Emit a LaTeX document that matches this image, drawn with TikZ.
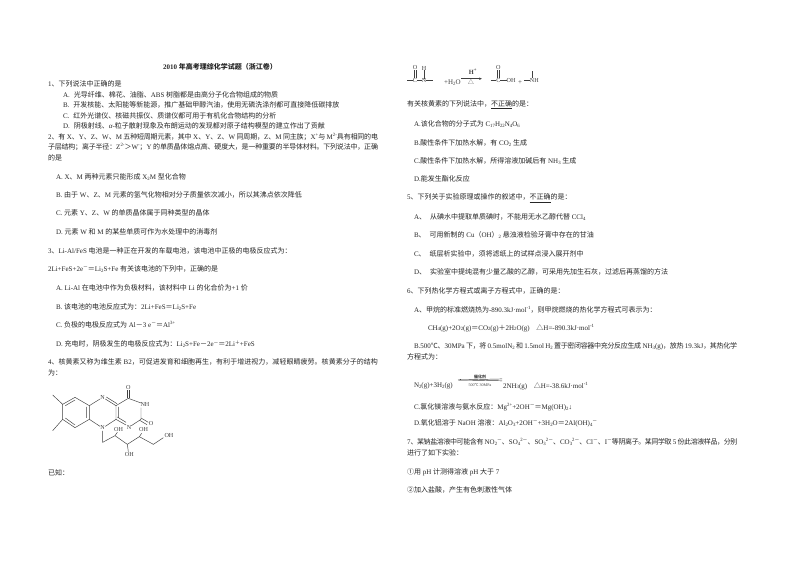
\documentclass[tikz,border=0pt]{standalone}
\usepackage{fontspec}
\usetikzlibrary{arrows.meta}
\setmainfont{Liberation Serif}
\newfontfamily\latinfam{Liberation Serif}
\newfontfamily\cjkfam{Noto Sans CJK SC}
\XeTeXinterchartokenstate=1
\newXeTeXintercharclass\cjkclass
\newcount\cjkn
\newcommand\setcjkrange[2]{\cjkn=#1 \loop\ifnum\cjkn<#2 \XeTeXcharclass\cjkn=\cjkclass \advance\cjkn by 1 \repeat}
\setcjkrange{"4E00}{"9FFF}
\setcjkrange{"3000}{"3040}
\setcjkrange{"FF00}{"FFF0}
\setcjkrange{"2460}{"2474}
\XeTeXcharclass"2103=\cjkclass
\XeTeXcharclass"25B3=\cjkclass
\XeTeXinterchartoks 0 \cjkclass = {\cjkfam}
\XeTeXinterchartoks 4095 \cjkclass = {\cjkfam}
\XeTeXinterchartoks \cjkclass 0 = {\latinfam}
\XeTeXinterchartoks \cjkclass 4095 = {\latinfam}
\XeTeXinterchartoks \cjkclass \cjkclass = {\hskip 0pt plus 1pt minus 0.3pt}
\newcommand\SB[1]{\raisebox{-0.6pt}{\fontsize{3.6}{4}\selectfont #1}}
\newcommand\SU[1]{\raisebox{2pt}{\fontsize{3.6}{4}\selectfont #1}}
\newcommand\UL[1]{$\underline{\hbox{#1}}$}
\newcount\linecnt
\newcommand\TL[3]{\global\advance\linecnt by 1 \node[txt] (line\the\linecnt) at (#1,#2) {#3};}
% a line set to a fixed width, in points
\newcommand\JL[4]{\global\advance\linecnt by 1 \node[txt] (line\the\linecnt) at (#1,#2) {\hbox to #3pt{#4}};}
\tikzset{
  txt/.style={anchor=west,inner sep=0pt,outer sep=0pt,text=black!85,font=\fontsize{5.25}{6}\selectfont},
  chemlabel/.style={inner sep=0pt,outer sep=0pt,text=black!75,font=\fontsize{4.6}{5}\selectfont},
  bond/.style={draw=black!75,line width=0.35pt},
}
\begin{document}
\begin{tikzpicture}[x=0.75pt,y=-0.75pt]
\useasboundingbox (0,0) rectangle (800,566);
\fill[white] (0,0) rectangle (800,566);
% title
\node[txt,anchor=center,font=\fontsize{5.25}{6}\selectfont\bfseries] (title) at (220,67) {2010 年高考理综化学试题（浙江卷）};
% left column
\TL{48}{84}{1、下列说法中正确的是}
\TL{63}{95}{A.\hspace{3pt}光导纤维、棉花、油脂、ABS 树脂都是由高分子化合物组成的物质}
\TL{63}{105}{B.\hspace{3pt}开发核能、太阳能等新能源，推广基础甲醇汽油，使用无磷洗涤剂都可直接降低碳排放}
\TL{63}{116}{C.\hspace{3pt}红外光谱仪、核磁共振仪、质谱仪都可用于有机化合物结构的分析}
\TL{63}{126}{D.\hspace{3pt}阴极射线、\textit{α}-粒子散射现象及布朗运动的发现都对原子结构模型的建立作出了贡献}
\JL{48}{137}{247.5}{2、有 X、Y、Z、W、M 五种短周期元素，其中 X、Y、Z、W 同周期，Z、M 同主族；X\SU{+}与 M\SU{2-}具有相同的电}
\JL{48}{147}{247.5}{子层结构；离子半径：Z\SU{2-}＞W\SU{-}；Y 的单质晶体熔点高、硬度大，是一种重要的半导体材料。下列说法中，正确}
\TL{48}{158}{的是}
\TL{56}{177}{A. X、M 两种元素只能形成 X\SB{2}M 型化合物}
\TL{56}{195}{B. 由于 W、Z、M 元素的氢气化物相对分子质量依次减小，所以其沸点依次降低}
\TL{56}{213}{C. 元素 Y、Z、W 的单质晶体属于同种类型的晶体}
\TL{56}{232}{D. 元素 W 和 M 的某些单质可作为水处理中的消毒剂}
\TL{48}{251}{3、Li-Al/FeS 电池是一种正在开发的车载电池，该电池中正极的电极反应式为：}
\TL{48}{269}{2Li+FeS+2e\SU{－}＝Li\SB{2}S+Fe 有关该电池的下列中，正确的是}
\TL{56}{288}{A. Li-Al 在电池中作为负极材料，该材料中 Li 的化合价为+1 价}
\TL{56}{307}{B. 该电池的电池反应式为：2Li+FeS＝Li\SB{2}S+Fe}
\TL{56}{325}{C. 负极的电极反应式为 Al－3 e\SU{－}＝Al\SU{3+}}
\TL{56}{344}{D. 充电时，阴极发生的电极反应式为：Li\SB{2}S+Fe－2e\SU{－}＝2Li\SU{＋}+FeS}
\JL{48}{362}{247.5}{4、核黄素又称为维生素 B2，可促进发育和细胞再生，有利于增进视力，减轻眼睛疲劳。核黄素分子的结构}
\TL{48}{373}{为：}
\TL{48}{473}{已知：}
% riboflavin
\begin{scope}[shift={(40,385)},x=0.25pt,y=-0.25pt]
  \draw[bond] (38,30)--(68,58)--(105,37)--(148,62)--(148,103)--(105,128)--(68,103)--(68,58);
  \draw[bond] (68,103)--(38,137);
  \draw[bond] (76,62)--(105,45) (140,66)--(140,99) (76,99)--(105,120);
  \draw[bond] (148,62)--(180,42) (196,42)--(228,62)--(228,103)--(196,124) (148,103)--(180,124);
  \draw[bond] (199,36)--(231,56) (236,66)--(236,99);
  \draw[bond] (228,62)--(265,40)--(303,54) (303,68)--(303,103)--(274,122) (258,120)--(228,103);
  \draw[bond] (232,96)--(258,112);
  \draw[bond] (261,40)--(261,16) (269,40)--(269,16);
  \draw[bond] (303,99)--(325,112) (299,106)--(321,119);
  \draw[bond] (188,138)--(188,172)--(225,152)--(262,178)--(298,155)--(340,178)--(370,158);
  \draw[bond] (225,152)--(232,142) (262,178)--(265,200) (298,155)--(305,145);
  \node[chemlabel] (n1) at (188,38) {N};
  \node[chemlabel] (n2) at (188,128) {N};
  \node[chemlabel] (n3) at (267,127) {N};
  \node[chemlabel] (nh) at (315,58) {NH};
  \node[chemlabel] (o1) at (265,8) {O};
  \node[chemlabel] (o2) at (333,117) {O};
  \node[chemlabel] (oh1) at (236,133) {OH};
  \node[chemlabel] (oh2) at (268,210) {OH};
  \node[chemlabel] (oh3) at (311,135) {OH};
  \node[chemlabel] (oh4) at (387,153) {OH};
\end{scope}
% right column: reaction
\begin{scope}[shift={(400,58)},x=0.25pt,y=-0.25pt]
  \node[chemlabel] (rc) at (45,68) {C};
  \node[chemlabel] (ro) at (45,30) {O};
  \node[chemlabel] (rn) at (72,68) {N};
  \node[chemlabel] (rh) at (72,30) {H};
  \draw[bond] (22,68)--(rc) (rc)--(rn) (rn)--(rh) (rn)--(100,68);
  \draw[bond] (42,60)--(42,37) (48,60)--(48,37);
  \node[chemlabel,font=\fontsize{5.25}{6}\selectfont] (water) at (157,73) {+H\SB{2}O};
  \coordinate (ra) at (183,62); \coordinate (rb) at (246,62);
  \draw[bond,-{Latex[length=2pt,width=2pt]}] (ra)--(rb);
  \node[chemlabel,font=\fontsize{4.8}{5}\selectfont\bfseries] (hp) at (218,40) {H\SU{+}};
  \node[chemlabel] (dl) at (213,73) {\cjkfam △};
  \node[chemlabel] (pc) at (295,68) {C};
  \node[chemlabel] (po) at (295,30) {O};
  \node[chemlabel] (poh) at (333,68) {OH};
  \draw[bond] (272,68)--(pc) (pc)--(poh);
  \draw[bond] (292,60)--(292,37) (298,60)--(298,37);
  \node[chemlabel,font=\fontsize{5.25}{6}\selectfont] (plus) at (360,75) {+};
  \node[chemlabel] (pnh) at (403,68) {NH};
  \draw[bond] (372,68)--(pnh) (396,60)--(396,40);
\end{scope}
\TL{407}{105}{有关核黄素的下列说法中，\UL{不正确}的是：}
\TL{414}{124}{A.该化合物的分子式为 C\SB{17}H\SB{22}N\SB{4}O\SB{6}}
\TL{414}{143}{B.酸性条件下加热水解，有 CO\SB{2} 生成}
\TL{414}{161}{C.酸性条件下加热水解，所得溶液加碱后有 NH\SB{3} 生成}
\TL{414}{179}{D.能发生酯化反应}
\TL{407}{198}{5、下列关于实验原理或操作的叙述中，\UL{不正确}的是：}
\TL{414}{217}{A、\hspace{3pt}从碘水中提取单质碘时，不能用无水乙醇代替 CCl\SB{4}}
\TL{414}{235}{B、\hspace{3pt}可用新制的 Cu（OH）\SB{2} 悬浊液检验牙膏中存在的甘油}
\TL{414}{254}{C、\hspace{3pt}纸层析实验中，须将滤纸上的试样点浸入展开剂中}
\TL{414}{272}{D、\hspace{3pt}实验室中提纯混有少量乙酸的乙醇，可采用先加生石灰，过滤后再蒸馏的方法}
\TL{407}{291}{6、下列热化学方程式或离子方程式中，正确的是：}
\TL{414}{310}{A、甲烷的标准燃烧热为-890.3kJ·mol\SU{-1}，则甲烷燃烧的热化学方程式可表示为：}
\TL{428}{328}{CH\SB{4}(g)+2O\SB{2}(g)＝CO\SB{2}(g)＋2H\SB{2}O(g)\hspace{5pt}△H=-890.3kJ·mol\SU{-1}}
\JL{414}{346}{242.25}{B.500℃、30MPa 下，将 0.5molN\SB{2} 和 1.5mol H\SB{2} 置于密闭容器中充分反应生成 NH\SB{3}(g)，放热 19.3kJ，其热化学}
\TL{407}{357}{方程式为：}
\TL{414}{386}{N\SB{2}(g)+3H\SB{2}(g)}
\coordinate (eqa) at (458,380); \coordinate (eqb) at (502,380);
\draw[bond] (eqa)--([yshift=-0.6pt]eqb);
\draw[bond] (eqa)--([yshift=0.8pt]eqb);
\draw[bond] ([xshift=2pt]eqa)--([xshift=2pt,yshift=1pt]eqa);
\node[chemlabel,font=\fontsize{3}{3.5}\selectfont\bfseries] (cat) at (480,377) {催化剂};
\node[chemlabel,font=\fontsize{3}{3.5}\selectfont] (cond) at (480,385) {500℃ 30MPa};
\TL{503}{386}{2NH\SB{3}(g)\hspace{5pt}△H=-38.6kJ·mol\SU{-1}}
\TL{414}{407}{C.氯化镁溶液与氨水反应：Mg\SU{2+}+2OH\SU{－}＝Mg(OH)\SB{2}↓}
\TL{414}{423}{D.氧化铝溶于 NaOH 溶液：Al\SB{2}O\SB{3}+2OH\SU{－}+3H\SB{2}O＝2Al(OH)\SB{4}\SU{－}}
\JL{407}{442}{247.5}{7、某钠盐溶液中可能含有 NO\SB{2}\SU{－}、SO\SB{4}\SU{2－}、SO\SB{3}\SU{2－}、CO\SB{3}\SU{2－}、Cl\SU{－}、I\SU{－}等阴离子。某同学取 5 份此溶液样品，分别}
\TL{407}{453}{进行了如下实验：}
\TL{407}{472}{①用 pH 计测得溶液 pH 大于 7}
\TL{407}{490}{②加入盐酸，产生有色刺激性气体}
\end{tikzpicture}
\end{document}
